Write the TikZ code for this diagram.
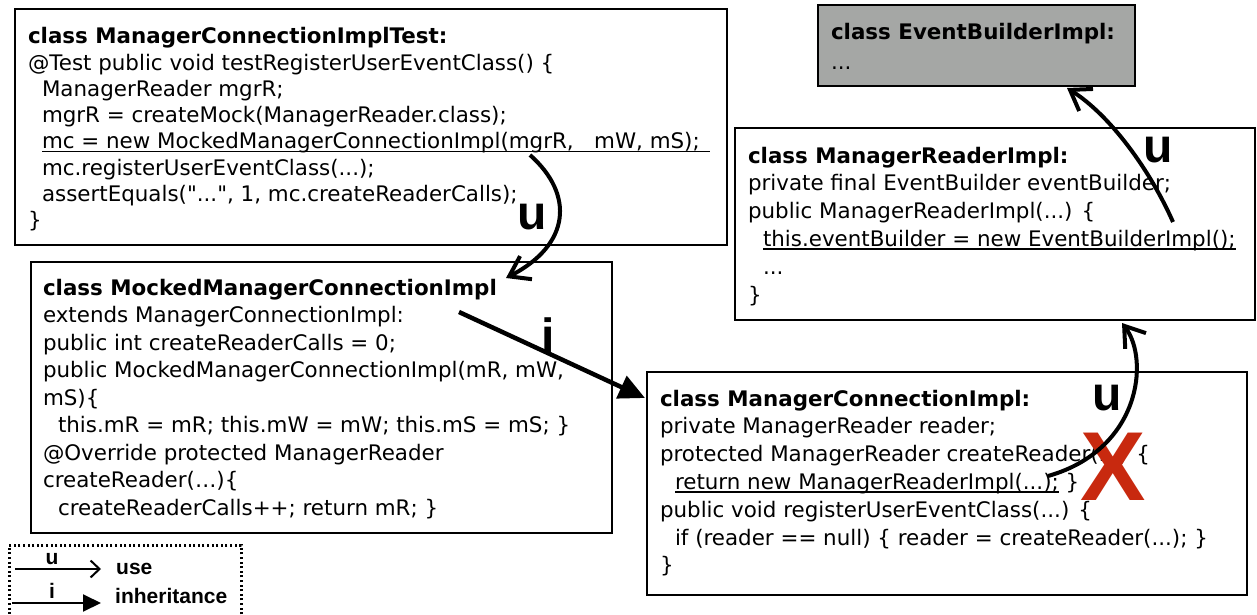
\documentclass[tikz,border=0pt]{standalone}
\usepackage{fontspec}
\setmainfont{DejaVu Sans}[Ligatures=TeXOff]
\newfontfamily\labfont{Liberation Sans}
\usetikzlibrary{arrows.meta}
\definecolor{boxgray}{HTML}{A5A7A5}
\definecolor{xred}{HTML}{C8290F}
\newcommand{\tdd}{...}
\newcommand{\ulx}[1]{\setbox0\hbox{#1}\rlap{\rule[-3.2pt]{\wd0}{1.2pt}}\box0\relax}
\begin{document}
\begin{tikzpicture}[x=1pt,y=-1pt,
  classbox/.style={draw=black, line width=2.2pt, anchor=north west, inner sep=0pt, outer sep=0pt},
  code/.style={anchor=base west, inner sep=0pt, outer sep=0pt, font=\fontsize{21.4}{25}\selectfont},
  biglab/.style={inner sep=0pt, font=\labfont\bfseries\fontsize{48}{48}\selectfont},
  leglab/.style={inner sep=0pt, font=\labfont\bfseries\fontsize{21}{21}\selectfont},
  usearrow/.style={line width=4pt, -{Straight Barb[length=19pt,width=26pt,line width=4pt]}},
  inharrow/.style={line width=4.5pt, -{Triangle[length=26pt,width=24pt]}},
]
\useasboundingbox (0,0) rectangle (1257,615);
\clip (0,0) rectangle (1257,615);

% class boxes
\node[classbox, line width=2.6pt, minimum width=712pt, minimum height=236pt] (test) at (15,9) {};
\node[classbox, fill=boxgray, minimum width=317pt, minimum height=81pt] (ebi) at (818,5) {};
\node[classbox, minimum width=520pt, minimum height=192pt] (mri) at (735,128) {};
\node[classbox, minimum width=581pt, minimum height=271pt] (mock) at (31,262) {};
\node[classbox, minimum width=600pt, minimum height=223pt] (mci) at (647,372) {};

% box texts
\foreach \txt [count=\i from 0] in {
  {\bfseries class ManagerConnectionImplTest:},
  {@Test public void testRegisterUserEventClass() \{},
  {\hspace*{14pt}ManagerReader mgrR;},
  {\hspace*{14pt}mgrR = createMock(ManagerReader.class);},
  {\hspace*{14pt}\ulx{mc = new MockedManagerConnectionImpl(mgrR,\ \ \ mW, mS);\hspace*{10pt}}},
  {\hspace*{14pt}mc.registerUserEventClass(\tdd);},
  {\hspace*{14pt}assertEquals("\tdd", 1, mc.createReaderCalls);},
  {\}}}
  \node[code] (ta\i) at (28,{44+26.2*\i}) {\txt};

\node[code] (tb0) at (831,40) {\bfseries class EventBuilderImpl:};
\node[code] (tb1) at (831,70) {\tdd};

\foreach \txt [count=\i from 0] in {
  {\bfseries class ManagerReaderImpl:},
  {private final EventBuilder eventBuilder;},
  {public ManagerReaderImpl(\tdd) \{},
  {\hspace*{15pt}\ulx{this.eventBuilder = new EventBuilderImpl();}},
  {\hspace*{15pt}\tdd},
  {\}}}
  \node[code] (tc\i) at (748,{163+27.8*\i}) {\txt};

\foreach \txt [count=\i from 0] in {
  {\bfseries class MockedManagerConnectionImpl},
  {extends ManagerConnectionImpl:},
  {public int createReaderCalls = 0;},
  {public MockedManagerConnectionImpl(mR, mW,},
  {mS)\{},
  {\hspace*{15pt}this.mR = mR; this.mW = mW; this.mS = mS; \}},
  {@Override protected ManagerReader},
  {createReader(…)\{},
  {\hspace*{15pt}createReaderCalls++; return mR; \}}}
  \node[code] (td\i) at (43,{295+27.5*\i}) {\txt};

\foreach \txt [count=\i from 0] in {
  {\bfseries class ManagerConnectionImpl:},
  {private ManagerReader reader;},
  {protected ManagerReader createReader(\tdd) \{},
  {\hspace*{15pt}\ulx{return new ManagerReaderImpl(\tdd);} \}},
  {public void registerUserEventClass(\tdd) \{},
  {\hspace*{15pt}if (reader == null) \{ reader = createReader(\tdd); \}},
  {\}}}
  \node[code] (te\i) at (660,{406+27.8*\i}) {\txt};

% red cross
\node[inner sep=0pt, text=xred, font=\labfont\bfseries\fontsize{98}{98}\selectfont] (xmark) at (1113,467) {X};

% connector end points
\coordinate (u1s) at (530,155);
\coordinate (u1e) at (506,278);
\coordinate (is) at (459,312);
\coordinate (ie) at (645,398);
\coordinate (u2s) at (1173,222);
\coordinate (u2e) at (1067,88);
\coordinate (u3s) at (1048,476);
\coordinate (u3e) at (1122,323);

% connectors
\draw[usearrow] (u1s) .. controls (575,195) and (570,245) .. (u1e);
\draw[inharrow] (is) -- (ie);
\draw[usearrow] (u2s) .. controls (1150,170) and (1110,115) .. (u2e);
\draw[usearrow] (u3s) .. controls (1140,450) and (1150,360) .. (u3e);

% connector labels
\node[biglab] (lu1) at (532,217) {u};
\node[biglab] (li) at (548,335) {i};
\node[biglab] (lu2) at (1158,150) {u};
\node[biglab] (lu3) at (1107,398) {u};

% legend
\node[draw=black, line width=2.5pt, dash pattern=on 2pt off 2.6pt, anchor=north west,
      minimum width=232pt, minimum height=90pt, inner sep=0pt] (legend) at (8,544) {};
\coordinate (lus) at (15,569);
\coordinate (lue) at (101,569);
\coordinate (lis) at (12,603);
\coordinate (lie) at (101,603);
\draw[line width=2pt, -{Straight Barb[length=9pt,width=17pt,line width=2pt]}] (lus) -- (lue);
\draw[line width=2pt, -{Triangle[length=18pt,width=17pt]}] (lis) -- (lie);
\node[leglab] (lgu) at (52,559) {u};
\node[leglab] (lgi) at (52,591) {i};
\node[leglab, anchor=base west] (lguse) at (116,574) {use};
\node[leglab, anchor=base west] (lginh) at (115,603) {inheritance};
\end{tikzpicture}
\end{document}
